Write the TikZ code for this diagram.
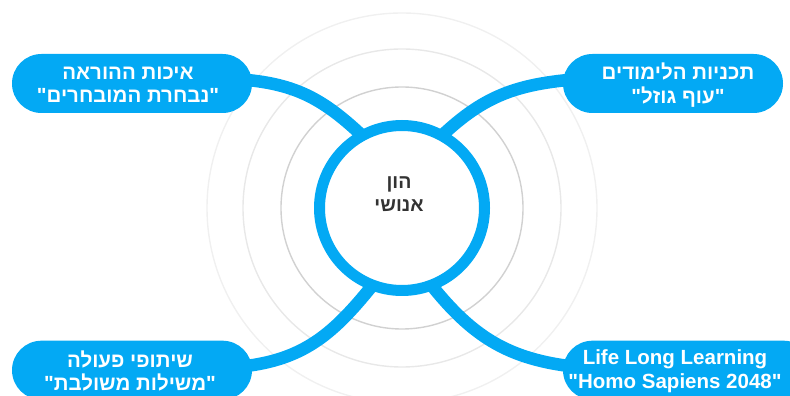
\documentclass[tikz,border=0pt]{standalone}
\usepackage{fontspec}
\setmainfont{Liberation Sans}
\newfontfamily\hebfont[Script=Hebrew]{Liberation Sans}
\newfontfamily\latfont{Liberation Sans}
\TeXXeTstate=1
\definecolor{blu}{RGB}{3,169,244}
\definecolor{ink}{RGB}{51,51,51}
\pgfdeclarelayer{bg}
\pgfdeclarelayer{rings}
\pgfsetlayers{rings,bg,main}
\tikzset{
  leaf/.style={draw=none, fill=blu, rounded corners=29.5pt, minimum height=59pt, inner sep=0pt},
  leaftext/.style={text=white, font=\latfont\bfseries\fontsize{20.5}{23.5}\selectfont, align=center, inner sep=0pt},
  hebtext/.style={leaftext, font=\hebfont\bfseries\fontsize{20.5}{23.5}\selectfont},
  link/.style={draw=blu, line width=12.5pt, shorten >=-4pt, shorten <=-3pt},
  ring/.style={line width=1.4pt},
}
\begin{document}
\begin{tikzpicture}[x=1pt,y=1pt]
\useasboundingbox (0,0) rectangle (790,396);
\clip (0,0) rectangle (790,396);
% boxes
\node[leaf, minimum width=240pt] (tl) at (132,312.5) {};
\node[leaf, minimum width=220pt] (tr) at (673,312.5) {};
\node[leaf, minimum width=240pt] (bl) at (132,25.8) {};
\node[leaf, minimum width=250pt] (br) at (688,25.8) {};
% centre
\node[circle, draw=blu, line width=11pt, fill=white, minimum size=165pt, inner sep=0pt] (c) at (402,188) {};
\node[text=ink, font=\hebfont\bfseries\fontsize{19.5}{23}\selectfont, align=center, inner sep=0pt] (ct) at (399,201.5) {\beginR הון\endR\\\beginR אנושי\endR};
% texts
\node[hebtext] (tlt) at (128,311) {\beginR איכות ההוראה\endR\\\beginR "נבחרת המובחרים"\endR};
\node[hebtext] (trt) at (678,311) {\beginR תכניות הלימודים\endR\\\beginR "עוף גוזל"\endR};
\node[hebtext] (blt) at (130,25) {\beginR שיתופי פעולה\endR\\\beginR "משילות משולבת"\endR};
\node[leaftext] (brt) at (675,25) {Life Long Learning\\"Homo Sapiens 2048"};
% rings
\begin{pgfonlayer}{rings}
  \draw[ring, draw=black!6] (c.center) circle (195);
  \draw[ring, draw=black!9] (c.center) circle (159);
  \draw[ring, draw=black!18] (c.center) circle (121);
\end{pgfonlayer}
% connectors
\begin{pgfonlayer}{bg}
  \draw[link] ([yshift=3pt]tl.east) to[out=-6,in=137] (c.120);
  \draw[link] ([yshift=3pt]tr.west) to[out=186,in=43] (c.60);
  \draw[link] ([yshift=5pt]bl.east) to[out=8,in=231] (c.248);
  \draw[link] ([yshift=5pt]br.west) to[out=172,in=309] (c.292);
\end{pgfonlayer}
\end{tikzpicture}
\end{document}
